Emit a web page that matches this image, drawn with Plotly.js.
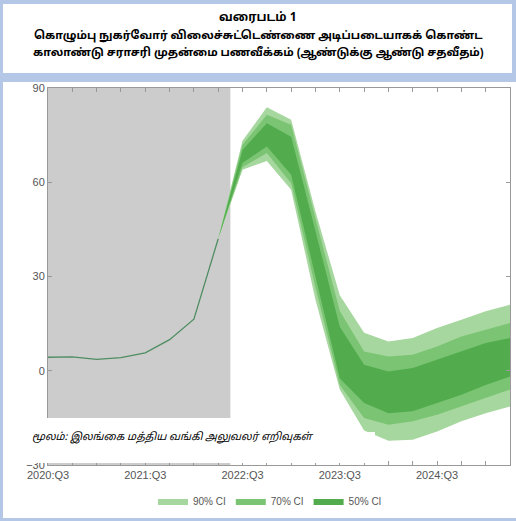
<!DOCTYPE html>
<html>
<head>
<meta charset="utf-8">
<script src="https://cdn.plot.ly/plotly-3.0.1.min.js"></script>
<style>
  html, body { margin:0; padding:0; width:516px; height:521px; background:#b4c7e7; overflow:hidden; }
  .box { position:absolute; background:#ffffff; }
  #chart { position:absolute; left:0; top:0; width:516px; height:521px; }
</style>
</head>
<body>
<div class="box" style="left:3px; top:4px; width:509px; height:69px;"></div>
<div class="box" style="left:3px; top:82px; width:513px; height:436px;"></div>
<div id="chart"></div>
<script>
// ---- data ----
const titleLines = [
  "வரைபடம் 1",
  "கொழும்பு நுகர்வோர் விலைச்சுட்டெண்ணை அடிப்படையாகக் கொண்ட",
  "காலாண்டு சராசரி முதன்மை பணவீக்கம் (ஆண்டுக்கு ஆண்டு சதவீதம்)"
];
const sourceNote = "மூலம்: இலங்கை மத்திய வங்கி அலுவலர் எறிவுகள்";
const quarters = ["2020:Q3","2020:Q4","2021:Q1","2021:Q2","2021:Q3","2021:Q4","2022:Q1","2022:Q2",
                  "2022:Q3","2022:Q4","2023:Q1","2023:Q2","2023:Q3","2023:Q4","2024:Q1","2024:Q2",
                  "2024:Q3","2024:Q4","2025:Q1","2025:Q2"];
const historyQ = quarters.slice(0, 8);
const historyVals = [4.3, 4.4, 3.6, 4.2, 5.7, 9.9, 16.4, 42];
const fanQ = quarters.slice(7);
const upper90 = [42, 73.2, 83.9, 79.9, 50.7, 24.0, 12.1,  9.3, 10.4, 13.6, 16.2, 18.9, 21.0];
const upper70 = [42, 71.9, 81.5, 78.3, 48.5, 19.0,  6.1,  4.5,  5.1,  7.7, 10.9, 13.0, 15.2];
const upper50 = [42, 70.3, 78.8, 74.5, 44.5, 14.0,  1.9, -0.2,  0.9,  3.5,  6.1,  8.8, 10.4];
const lower50 = [42, 66.1, 71.4, 62.4, 30.0, -2.5,-10.3,-13.5,-12.9,-10.3, -7.6, -4.5, -1.8];
const lower70 = [42, 64.8, 69.3, 59.7, 26.5, -4.5,-15.0,-17.2,-16.1,-14.0,-11.4, -8.7, -6.0];
const lower90 = [42, 64.0, 66.8, 57.6, 22.6, -6.0,-19.0,-22.3,-22.0,-19.3,-16.1,-13.5,-11.4];
const bandNames = ["90% CI", "70% CI", "50% CI"];
const yTicks = [-30, 0, 30, 60, 90];
const shadeEndQ = 7.5;

// ---- styling ----
const bandColors = ["#a6d79e", "#7bc473", "#52ac4e"];
const W = 516, H = 521;
const M = {l:48, r:6, t:88, b:56};
const pw = W - M.l - M.r, ph = H - M.t - M.b;
const px2x = p => (p - M.l) / pw;
const py2y = p => (H - M.b - p) / ph;
const tamilFont = 'Noto Sans Tamil, Latha, Noto Sans, sans-serif';

function band(upper, lower, name, color) {
  return {
    type: 'scatter', mode: 'lines', name: name,
    x: fanQ.concat(fanQ.slice().reverse()),
    y: upper.concat(lower.slice().reverse()),
    fill: 'toself', fillcolor: color,
    line: {width: 0, color: color},
    hoverinfo: 'skip'
  };
}

const traces = [
  band(upper90, lower90, bandNames[0], bandColors[0]),
  band(upper70, lower70, bandNames[1], bandColors[1]),
  band(upper50, lower50, bandNames[2], bandColors[2]),
  {
    type: 'scatter', mode: 'lines', x: historyQ, y: historyVals,
    line: {color: '#4f8d62', width: 1.3}, showlegend: false, hoverinfo: 'skip'
  }
];

const titleY = [18, 36, 54];
const titleSizes = [12, 11.2, 11.2];
const titleAnn = titleLines.map((t, i) => ({
  text: t, xref: 'paper', yref: 'paper', x: px2x(258), y: py2y(titleY[i]),
  xanchor: 'center', yanchor: 'middle', showarrow: false,
  font: {size: titleSizes[i], color: '#000000', family: tamilFont, weight: 700}
}));

const layout = {
  width: W, height: H,
  margin: M,
  paper_bgcolor: 'rgba(0,0,0,0)',
  plot_bgcolor: '#ffffff',
  font: {family: 'Liberation Sans, Arial, sans-serif', color: '#555555', size: 11},
  xaxis: {
    type: 'category', categoryorder: 'array', categoryarray: quarters,
    range: [0, 19],
    tickvals: quarters,
    ticktext: quarters.map((q, i) => (i % 4 === 0 ? q : '')),
    ticks: 'inside', ticklen: 4, tickcolor: '#999999',
    showline: true, linecolor: '#999999', linewidth: 1, mirror: 'allticks',
    showgrid: false, zeroline: false,
    tickfont: {size: 11, color: '#555555'}
  },
  yaxis: {
    range: [-30, 90], tickvals: yTicks,
    ticks: 'inside', ticklen: 4, tickcolor: '#999999',
    showline: true, linecolor: '#999999', linewidth: 1, mirror: 'allticks',
    showgrid: false, zeroline: false,
    tickfont: {size: 11, color: '#555555'}
  },
  showlegend: true,
  legend: {
    orientation: 'h', x: px2x(270), xanchor: 'center', y: py2y(501), yanchor: 'middle',
    font: {size: 10, color: '#555555'}, bgcolor: 'rgba(0,0,0,0)', traceorder: 'normal'
  },
  shapes: [
    {type: 'rect', xref: 'x', yref: 'y', x0: 0, x1: shadeEndQ, y0: -30, y1: 90,
     fillcolor: '#cccccc', line: {width: 0}, layer: 'below'},
    {type: 'rect', xref: 'paper', yref: 'paper', x0: px2x(3), x1: px2x(352), y0: py2y(463), y1: py2y(418),
     fillcolor: '#ffffff', line: {width: 0}, layer: 'above'},
    {type: 'rect', xref: 'paper', yref: 'paper', x0: px2x(352), x1: px2x(375), y0: py2y(463), y1: py2y(432),
     fillcolor: '#ffffff', line: {width: 0}, layer: 'above'}
  ],
  annotations: titleAnn.concat([
    {text: sourceNote, xref: 'paper', yref: 'paper', x: px2x(30), y: py2y(437),
     xanchor: 'left', yanchor: 'middle', showarrow: false,
     font: {size: 10.5, color: '#000000', family: tamilFont, style: 'italic'}}
  ])
};

Plotly.newPlot('chart', traces, layout, {displayModeBar: false, staticPlot: true});
</script>
</body>
</html>
